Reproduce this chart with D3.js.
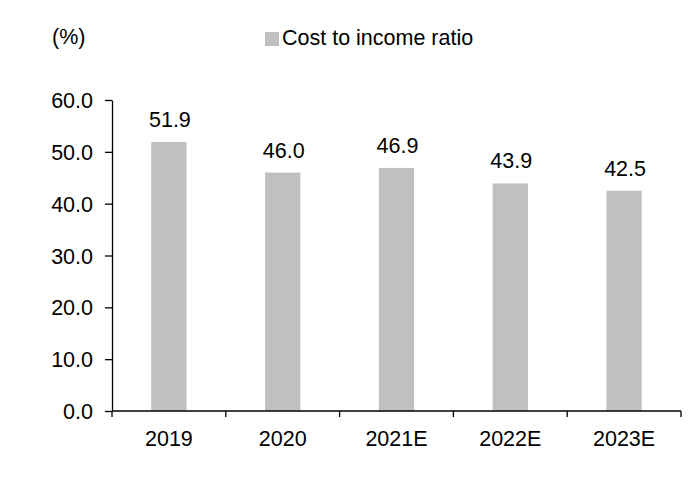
<!DOCTYPE html>
<html>
<head>
<meta charset="utf-8">
<script src="https://cdn.jsdelivr.net/npm/d3@7/dist/d3.min.js"></script>
<style>
  body { margin: 0; background: #fff; }
  text { font-family: "Liberation Sans", Arial, sans-serif; fill: #000; }
</style>
</head>
<body>
<div id="chart"></div>
<script>
// chart data
var years = ["2019", "2020", "2021E", "2022E", "2023E"];
var costToIncome = [51.9, 46.0, 46.9, 43.9, 42.5];
var yTicks = [0, 10, 20, 30, 40, 50, 60];
var seriesName = "Cost to income ratio";
var unitLabel = "(%)";

var width = 694, height = 477;
var margin = { top: 100, right: 13, bottom: 66, left: 112 };
var fontSize = 21.5;
var barColor = "#c0c0c0";

var svg = d3.select("#chart")
  .append("svg")
  .attr("width", width)
  .attr("height", height);

var g = svg.append("g")
  .attr("transform", "translate(" + margin.left + "," + margin.top + ")");

var innerW = width - margin.left - margin.right,
  innerH = height - margin.top - margin.bottom;

var x = d3.scaleBand()
  .domain(years)
  .range([0, innerW]);

var y = d3.scaleLinear()
  .domain([0, 60])
  .range([innerH, 0]);

var barW = x.bandwidth() * 0.31;

// bars
g.append("g")
  .selectAll("rect")
  .data(costToIncome)
  .enter()
  .append("rect")
  .attr("fill", barColor)
  .attr("x", function (d, i) { return x(years[i]) + x.bandwidth() / 2 - barW / 2; })
  .attr("y", function (d) { return y(d); })
  .attr("width", barW)
  .attr("height", function (d) { return innerH - y(d); });

// value labels
g.append("g")
  .selectAll("text")
  .data(costToIncome)
  .enter()
  .append("text")
  .attr("x", function (d, i) { return x(years[i]) + x.bandwidth() / 2 + 1; })
  .attr("y", function (d) { return y(d) - 15; })
  .attr("text-anchor", "middle")
  .style("font-size", fontSize + "px")
  .text(function (d) { return d.toFixed(1); });

// y axis
var yAxis = g.append("g")
  .call(d3.axisLeft(y).tickValues(yTicks).tickFormat(d3.format(".1f")).tickSize(7).tickSizeOuter(0).tickPadding(12));
yAxis.select(".domain").attr("stroke", "#000").attr("stroke-width", 1.3);
yAxis.selectAll(".tick line").attr("stroke", "#000").attr("stroke-width", 1.3);
yAxis.selectAll(".tick text")
  .style("font-size", fontSize + "px")
  .style("font-family", "'Liberation Sans', Arial, sans-serif")
  .attr("dy", "0.35em");

// x axis line with ticks at band edges
var xAxis = g.append("g").attr("transform", "translate(0," + innerH + ")");
xAxis.append("line")
  .attr("x1", 0).attr("x2", innerW)
  .attr("stroke", "#000").attr("stroke-width", 1.3);
var edges = years.map(function (d) { return x(d); }).concat([innerW]);
xAxis.selectAll(".edge")
  .data(edges)
  .enter()
  .append("line")
  .attr("class", "edge")
  .attr("x1", function (d) { return d; })
  .attr("x2", function (d) { return d; })
  .attr("y1", 0).attr("y2", 6)
  .attr("stroke", "#000").attr("stroke-width", 1.3);
xAxis.selectAll(".lbl")
  .data(years)
  .enter()
  .append("text")
  .attr("class", "lbl")
  .attr("x", function (d) { return x(d) + x.bandwidth() / 2; })
  .attr("y", 35)
  .attr("text-anchor", "middle")
  .style("font-size", fontSize + "px")
  .text(function (d) { return d; });

// unit label
svg.append("text")
  .attr("x", 52)
  .attr("y", 44)
  .style("font-size", fontSize + "px")
  .text(unitLabel);

// legend
var legend = svg.append("g").attr("transform", "translate(265,32)");
legend.append("rect")
  .attr("width", 14).attr("height", 14)
  .attr("fill", barColor);
legend.append("text")
  .attr("x", 17)
  .attr("y", 13)
  .style("font-size", fontSize + "px")
  .text(seriesName);
</script>
</body>
</html>
